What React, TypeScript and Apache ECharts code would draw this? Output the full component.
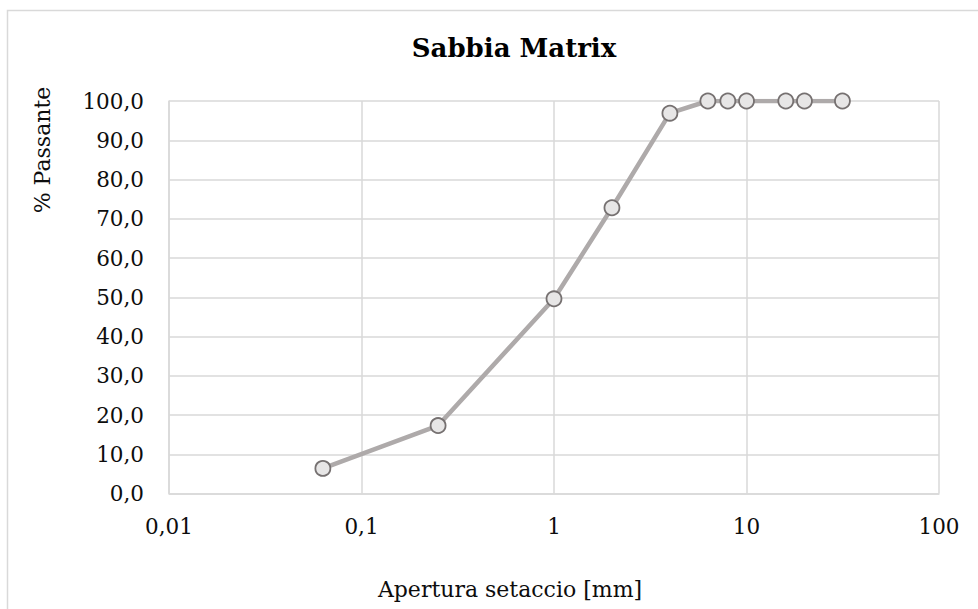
import React, { useEffect, useRef } from "react";
import * as echarts from "echarts";

const sieveSizes = [0.063, 0.25, 1, 2, 4, 6.3, 8, 10, 16, 20, 31.5];
const passing = [6.4, 17.3, 49.6, 72.8, 96.9, 100, 100, 100, 100, 100, 100];
const titleText = "Sabbia Matrix";
const xName = "Apertura setaccio [mm]";
const yName = "% Passante";

const FONT = "DejaVu Serif";

export default function App() {
  const ref = useRef<HTMLDivElement>(null);
  useEffect(() => {
    if (!ref.current) return;
    const chart = echarts.init(ref.current, null, { renderer: "svg" });
    const data = sieveSizes.map((x, i) => [x, passing[i]]);
    chart.setOption({
      animation: false,
      backgroundColor: "#ffffff",
      textStyle: { fontFamily: FONT },
      grid: { left: 169, right: 39, top: 101, bottom: 115.5, containLabel: false },
      xAxis: {
        type: "log",
        logBase: 10,
        min: 0.01,
        max: 100,
        axisLine: { show: true, lineStyle: { color: "#D9D9D9", width: 1.5 } },
        axisTick: { show: false },
        splitLine: { show: true, lineStyle: { color: "#D9D9D9", width: 1.5 } },
        axisLabel: {
          fontFamily: FONT,
          fontSize: 21.5,
          color: "#0D0D0D",
          margin: 22,
          formatter: (v: number) => String(+Number(v).toPrecision(6)).replace(".", ","),
        },
      },
      yAxis: {
        type: "value",
        min: 0,
        max: 100,
        interval: 10,
        axisLine: { show: true, lineStyle: { color: "#D9D9D9", width: 1.5 } },
        axisTick: { show: false },
        splitLine: { show: true, lineStyle: { color: "#D9D9D9", width: 1.5 } },
        axisLabel: {
          fontFamily: FONT,
          fontSize: 21.5,
          color: "#0D0D0D",
          margin: 25,
          formatter: (v: number) => Number(v).toFixed(1).replace(".", ","),
        },
      },
      series: [
        {
          type: "line",
          data,
          symbol: "circle",
          symbolSize: 15,
          lineStyle: { color: "#AEAAAA", width: 4.5 },
          itemStyle: { color: "#E7E6E6", borderColor: "#767171", borderWidth: 1.8 },
          z: 3,
        },
      ],
      graphic: [
        {
          type: "rect",
          shape: { x: 7.5, y: 10.5, width: 1100, height: 700 },
          style: { fill: "none", stroke: "#D9D9D9", lineWidth: 1.5 },
          silent: true,
          z: -10,
        },
        {
          type: "text",
          x: 514,
          y: 48,
          style: {
            text: titleText,
            fontFamily: FONT,
            fontWeight: "bold",
            fontSize: 26,
            fill: "#000000",
            align: "center",
            verticalAlign: "middle",
          },
        },
        {
          type: "text",
          x: 510,
          y: 589,
          style: {
            text: xName,
            fontFamily: FONT,
            fontSize: 22,
            fill: "#0D0D0D",
            align: "center",
            verticalAlign: "middle",
          },
        },
        {
          type: "text",
          x: 42,
          y: 150,
          rotation: Math.PI / 2,
          style: {
            text: yName,
            fontFamily: FONT,
            fontSize: 22,
            fill: "#0D0D0D",
            align: "center",
            verticalAlign: "middle",
          },
        },
      ],
    });
    return () => chart.dispose();
  }, []);
  return <div ref={ref} style={{ width: 978, height: 609, position: "absolute", left: 0, top: 0 }} />;
}
